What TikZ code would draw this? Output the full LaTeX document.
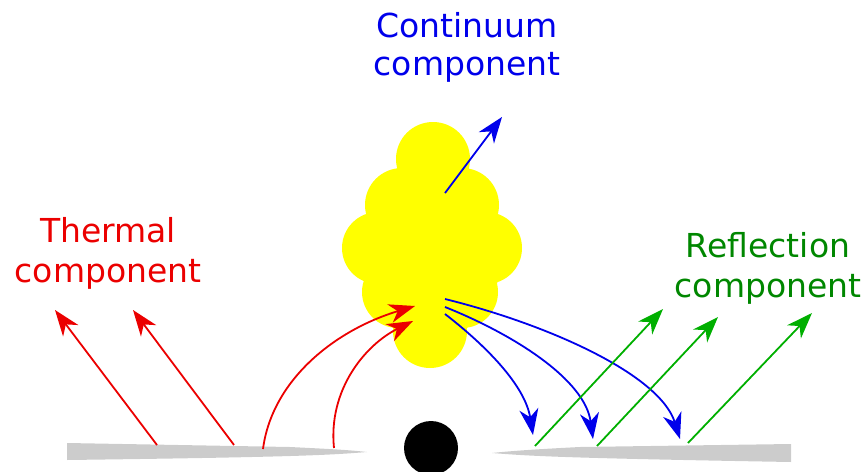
\documentclass[tikz,border=0pt]{standalone}
\usepackage{fontspec}
\setmainfont{DejaVu Sans}
\usetikzlibrary{arrows.meta}
\definecolor{thermred}{RGB}{235,0,0}
\definecolor{contblue}{RGB}{0,0,235}
\definecolor{reflgreen}{RGB}{0,175,0}
\definecolor{refltext}{RGB}{0,135,0}
\definecolor{disk}{RGB}{204,204,204}
\definecolor{corona}{RGB}{255,255,0}
\tikzset{
  ray/.style={line width=1.8pt, -{Stealth[length=26pt,width=19pt,inset=8pt]}},
  complabel/.style={font=\fontsize{33}{40}\selectfont, align=center, inner sep=0pt, anchor=north},
}
\begin{document}
\begin{tikzpicture}[x=1pt,y=-1pt]
\useasboundingbox (0,0) rectangle (867,471);

% accretion disk, two halves
\fill[disk] (67,443) -- (290,447) .. controls (330,449) and (350,450) .. (367,452)
  .. controls (330,455) and (300,457) .. (67,460) -- cycle;
\fill[disk] (791,444) -- (580,447) .. controls (540,449) and (510,451) .. (492,453)
  .. controls (530,456) and (560,458) .. (791,462) -- cycle;

% black hole
\fill[black] (431,448) circle (27);

% corona cloud
\fill[corona] (433,159) circle (37)
  (402,205) circle (37) (462,205) circle (37)
  (378,248) circle (36) (486,248) circle (36)
  (398,292) circle (36) (462,292) circle (36)
  (430,331) circle (37)
  (432,250) ellipse (70 and 90);

% ray end points
\coordinate (t1s) at (157,445); \coordinate (t1e) at (55,310);
\coordinate (t2s) at (234,445); \coordinate (t2e) at (133,310);
\coordinate (h1s) at (263,449); \coordinate (h1e) at (415,306);
\coordinate (h2s) at (334,448); \coordinate (h2e) at (413,321);
\coordinate (cs) at (445,193);  \coordinate (ce) at (502,117);
\coordinate (b1s) at (445,299); \coordinate (b1e) at (680,439);
\coordinate (b2s) at (445,307); \coordinate (b2e) at (593,439);
\coordinate (b3s) at (445,314); \coordinate (b3e) at (533,435);
\coordinate (g1s) at (535,446); \coordinate (g1e) at (663,309);
\coordinate (g2s) at (597,446); \coordinate (g2e) at (718,317);
\coordinate (g3s) at (688,443); \coordinate (g3e) at (812,313);

% thermal emission from the disk
\draw[ray, thermred] (t1s) -- (t1e);
\draw[ray, thermred] (t2s) -- (t2e);
% seed photons into the corona
\draw[ray, thermred] (h1s) .. controls (272,380) and (335,330) .. (h1e);
\draw[ray, thermred] (h2s) .. controls (328,390) and (365,345) .. (h2e);

% continuum
\draw[ray, contblue] (cs) -- (ce);
\draw[ray, contblue] (b1s) .. controls (550,325) and (660,375) .. (b1e);
\draw[ray, contblue] (b2s) .. controls (515,335) and (585,380) .. (b2e);
\draw[ray, contblue] (b3s) .. controls (485,345) and (525,385) .. (b3e);

% reflection
\draw[ray, reflgreen] (g1s) -- (g1e);
\draw[ray, reflgreen] (g2s) -- (g2e);
\draw[ray, reflgreen] (g3s) -- (g3e);

% labels
\node[complabel, text=contblue, font=\fontsize{33}{38}\selectfont] (contlabel) at (467,12) {Continuum\\component};
\node[complabel, text=thermred] (thermlabel) at (108,217) {Thermal\\component};
\node[complabel, text=refltext] (refllabel) at (768,232) {Reflection\\component};
\end{tikzpicture}
\end{document}
